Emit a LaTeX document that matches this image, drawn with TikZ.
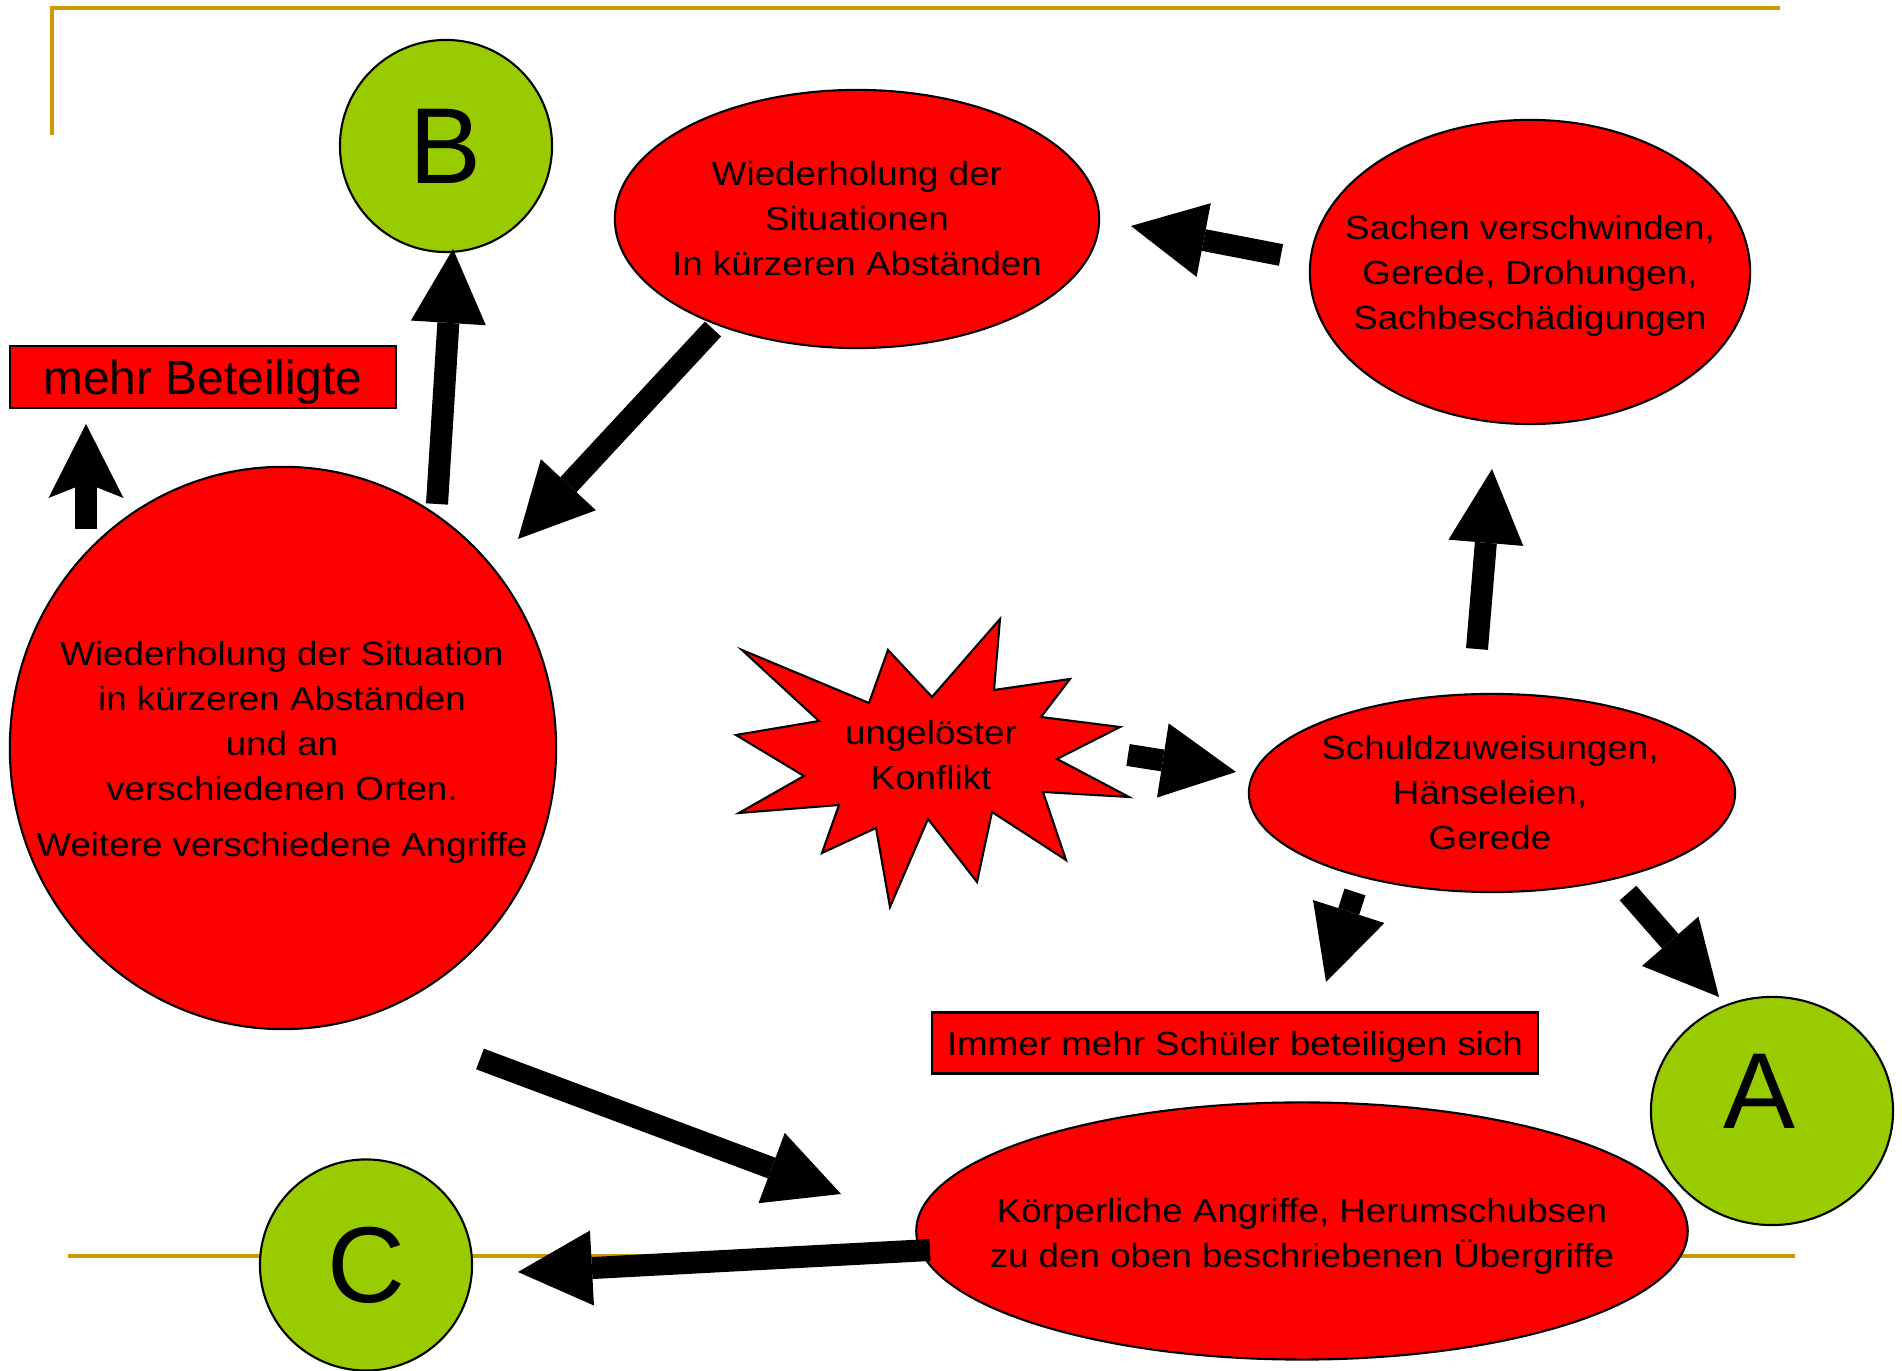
\documentclass[tikz,border=0pt]{standalone}
\usepackage{fontspec}
\setmainfont{Liberation Sans}
\newfontfamily\widesans{Liberation Sans}[FakeStretch=1.1]
\usetikzlibrary{shapes.geometric,arrows.meta}

\definecolor{slidered}{HTML}{FF0000}
\definecolor{slidegreen}{HTML}{99CC00}
\definecolor{slidegold}{HTML}{CC9900}

\begin{document}
\begin{tikzpicture}[
  x=0.01cm, y=-0.01cm,
  redoval/.style={
        ellipse, draw, fill=slidered, line width=0.6pt, inner sep=0pt
  },
  greenball/.style={
        ellipse, draw, fill=slidegreen, line width=0.6pt, inner sep=0pt,
        font=\fontsize{30.7pt}{36pt}\selectfont
  },
  redbox/.style={
        rectangle, draw, fill=slidered, line width=0.6pt, inner sep=0pt,
        text depth=0pt
  },
  ovaltext/.style={
        align=center, inner sep=0pt,
        font=\widesans\fontsize{9.5pt}{12.8pt}\selectfont
  },
  blockarrow/.style={
        line width=0.22cm,
        -{Triangle[length=0.74cm, width=0.75cm, line width=0pt]}
  },
  notcharrow/.style={
        line width=0.22cm,
        -{Stealth[length=0.74cm, width=0.75cm, inset=0.15cm, line width=0pt]}
  },
  goldline/.style={slidegold, line width=1.05pt}
]
    \useasboundingbox (0,0) rectangle (1902,1371);

    % slide frame lines
    \draw[goldline] (52,135) -- (52,8) -- (1780,8);
    \draw[goldline] (68,1256) -- (1795,1256);

    % green markers
    \node[greenball, minimum width=2.12cm, minimum height=2.12cm] (B) at (446,146) {B};
    \node[greenball, minimum width=2.42cm, minimum height=2.28cm] (A) at (1772,1111) {};
    \node[font=\fontsize{30.7pt}{36pt}\selectfont, inner sep=0pt] (A_txt) at (1759,1091) {A};
    \node[greenball, minimum width=2.12cm, minimum height=2.11cm] (C) at (366,1265) {C};

    % red ovals
    \node[redoval, minimum width=4.84cm, minimum height=2.58cm] (wdh) at (857,219) {};
    \node[ovaltext] (wdh_txt) at (wdh) {Wiederholung der\\Situationen\\In kürzeren Abständen};

    \node[redoval, minimum width=4.40cm, minimum height=3.04cm] (sachen) at (1530,272) {};
    \node[ovaltext] (sachen_txt) at (1530,276) {Sachen verschwinden,\\Gerede, Drohungen,\\Sachbeschädigungen};

    \node[redoval, minimum width=4.86cm, minimum height=1.98cm] (schuld) at (1492,793) {};
    \node[ovaltext] (schuld_txt) at (1490,793) {Schuldzuweisungen,\\Hänseleien,\\Gerede};

    \node[redoval, minimum width=7.71cm, minimum height=2.57cm] (koerper) at (1302,1231) {};
    \node[ovaltext] (koerper_txt) at (1302,1236) {Körperliche Angriffe, Herumschubsen\\zu den oben beschriebenen Übergriffe};

    \node[redoval, minimum width=5.46cm, minimum height=5.62cm] (orte) at (283,748) {};
    \node[ovaltext] (orte_txt) at (282,752) {Wiederholung der Situation\\in kürzeren Abständen\\und an\\verschiedenen Orten.\\[0.11cm]Weitere verschiedene Angriffe};

    % red boxes
    \node[redbox, minimum width=3.86cm, minimum height=0.62cm,
          font=\fontsize{13.6pt}{16pt}\selectfont] (mehr) at (203,377) {mehr Beteiligte};
    \node[redbox, minimum width=6.06cm, minimum height=0.61cm,
          font=\widesans\fontsize{9.5pt}{12.8pt}\selectfont] (immer) at (1235,1043) {Immer mehr Schüler beteiligen sich};

    % starburst
    \draw[fill=slidered, line width=0.6pt]
      (742,650) -- (869,703) -- (888,650) -- (932,697) -- (1000,619) -- (994,690)
      -- (1070,679) -- (1041,717) -- (1120,727) -- (1057,759) -- (1129,797)
      -- (1043,792) -- (1066,860) -- (992,812) -- (977,882) -- (928,819)
      -- (890,907) -- (876,828) -- (822,853) -- (839,805) -- (739,813)
      -- (804,776) -- (736,735) -- (819,721) -- cycle;
    \node[ovaltext] (konflikt) at (931,755) {ungelöster\\Konflikt};

    % arrow ends
    \coordinate (orte_B) at (437,504);
    \coordinate (B_in) at (453,249);
    \coordinate (orte_mehr) at (86,529);
    \coordinate (mehr_in) at (86,424);
    \coordinate (wdh_out) at (713,329);
    \coordinate (orte_in) at (518,539);
    \coordinate (sachen_out) at (1281,255);
    \coordinate (wdh_in) at (1131,226);
    \coordinate (schuld_up) at (1477,649);
    \coordinate (sachen_in) at (1492,469);
    \coordinate (konflikt_out) at (1128,755);
    \coordinate (schuld_in) at (1236,772);
    \coordinate (schuld_down) at (1355,892);
    \coordinate (immer_in) at (1326,982);
    \coordinate (schuld_A) at (1628,893);
    \coordinate (A_in) at (1719,997);
    \coordinate (orte_down) at (480,1059);
    \coordinate (koerper_in) at (841,1194);
    \coordinate (koerper_out) at (930,1250);
    \coordinate (C_in) at (518,1272);

    \draw[blockarrow] (orte_B) -- (B_in);
    \draw[notcharrow] (orte_mehr) -- (mehr_in);
    \draw[blockarrow] (wdh_out) -- (orte_in);
    \draw[blockarrow] (sachen_out) -- (wdh_in);
    \draw[blockarrow] (schuld_up) -- (sachen_in);
    \draw[blockarrow] (konflikt_out) -- (schuld_in);
    \draw[blockarrow] (schuld_down) -- (immer_in);
    \draw[blockarrow] (schuld_A) -- (A_in);
    \draw[blockarrow] (orte_down) -- (koerper_in);
    \draw[blockarrow] (koerper_out) -- (C_in);
\end{tikzpicture}
\end{document}
